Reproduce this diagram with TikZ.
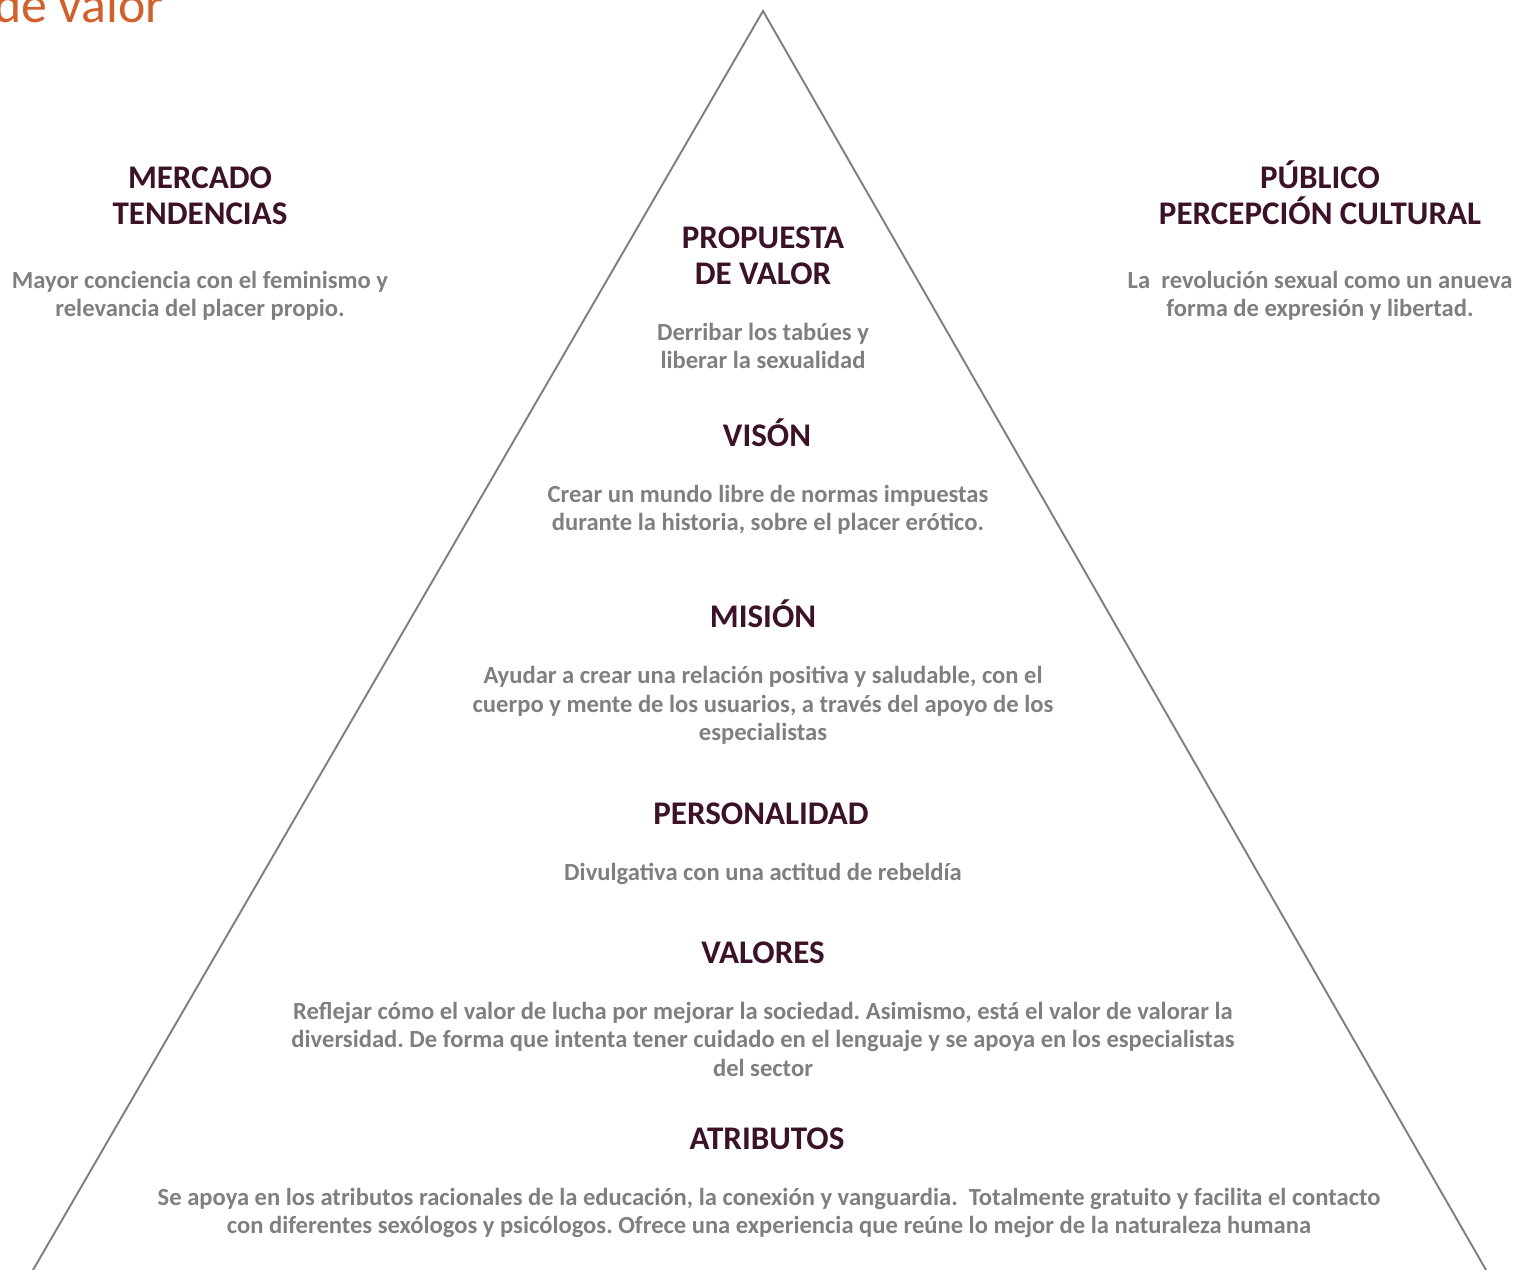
\documentclass[tikz,border=0pt]{standalone}
\usepackage{fontspec}
\setmainfont{Carlito}
\frenchspacing
\definecolor{headc}{HTML}{3B1228}
\definecolor{bodyc}{HTML}{7F7F7F}
\definecolor{titlec}{HTML}{D0612C}
\definecolor{linec}{HTML}{7F7F7F}
\tikzset{
  head/.style={anchor=base, inner sep=0pt, text=headc, font=\fontsize{18.8pt}{22pt}\selectfont\bfseries},
  body/.style={anchor=base, inner sep=0pt, text=bodyc, font=\fontsize{14pt}{16pt}\selectfont\bfseries},
}
\begin{document}
\begin{tikzpicture}[x=0.02cm,y=-0.02cm]
\useasboundingbox (0,0) rectangle (1514,1269);
\clip (0,0) rectangle (1514,1269);
% title (cut off at the top, as in the reference)
\node[anchor=base east, inner sep=0pt, text=titlec, font=\fontsize{29.5pt}{32pt}\selectfont] (title) at (164,22) {de valor};
% pyramid
\coordinate (apex) at (763,11);
\coordinate (bl) at (33,1270);
\coordinate (br) at (1486,1270);
\draw[linec, line width=1.1pt, line join=miter] (bl) -- (apex) -- (br);
% left
\node[head] (mer1) at (200,188) {MERCADO};
\node[head] (mer2) at (200,224) {TENDENCIAS};
\node[body] (merb1) at (200,288) {Mayor conciencia con el feminismo y};
\node[body] (merb2) at (200,316) {relevancia del placer propio.};
% right
\node[head] (pub1) at (1320,188) {PÚBLICO};
\node[head] (pub2) at (1320,224) {PERCEPCIÓN CULTURAL};
\node[body] (pubb1) at (1320,288) {La\ \ revolución sexual como un anueva};
\node[body] (pubb2) at (1320,316) {forma de expresión y libertad.};
% propuesta
\node[head] (pro1) at (763,248) {PROPUESTA};
\node[head] (pro2) at (763,284) {DE VALOR};
\node[body] (prob1) at (763,340) {Derribar los tabúes y};
\node[body] (prob2) at (763,368) {liberar la sexualidad};
% vision
\node[head] (vis) at (767,446) {VISÓN};
\node[body] (visb1) at (768,502) {Crear un mundo libre de normas impuestas};
\node[body] (visb2) at (768,530) {durante la historia, sobre el placer erótico.};
% mision
\node[head] (mis) at (763,627) {MISIÓN};
\node[body] (misb1) at (763,683) {Ayudar a crear una relación positiva y saludable, con el};
\node[body] (misb2) at (763,712) {cuerpo y mente de los usuarios, a través del apoyo de los};
\node[body] (misb3) at (763,740) {especialistas};
% personalidad
\node[head] (per) at (761,824) {PERSONALIDAD};
\node[body] (perb) at (763,880) {Divulgativa con una actitud de rebeldía};
% valores
\node[head] (val) at (763,963) {VALORES};
\node[body] (valb1) at (763,1019) {Reflejar cómo el valor de lucha por mejorar la sociedad. Asimismo, está el valor de valorar la};
\node[body] (valb2) at (763,1047) {diversidad. De forma que intenta tener cuidado en el lenguaje y se apoya en los especialistas};
\node[body] (valb3) at (763,1076) {del sector};
% atributos
\node[head] (atr) at (767,1149) {ATRIBUTOS};
\node[body] (atrb1) at (769,1205) {Se apoya en los atributos racionales de la educación, la conexión y vanguardia.\ \ Totalmente gratuito y facilita el contacto};
\node[body] (atrb2) at (769,1233) {con diferentes sexólogos y psicólogos. Ofrece una experiencia que reúne lo mejor de la naturaleza humana};
\end{tikzpicture}
\end{document}
